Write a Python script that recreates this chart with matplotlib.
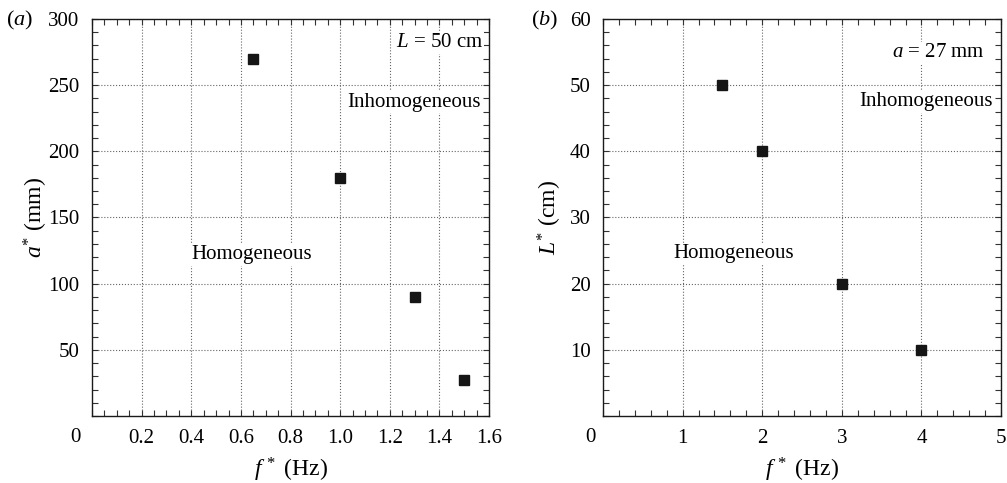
import numpy as np
import matplotlib
matplotlib.use('Agg')
import matplotlib.pyplot as plt
from matplotlib.ticker import MultipleLocator, FixedLocator
from matplotlib.transforms import offset_copy

plt.rcParams['font.family'] = ['Liberation Serif', 'DejaVu Serif']
plt.rcParams['mathtext.fontset'] = 'custom'
plt.rcParams['mathtext.rm'] = 'Liberation Serif'
plt.rcParams['mathtext.it'] = 'Liberation Serif:italic'

# panel (a): L = 50 cm
f_a = [0.65, 1.0, 1.3, 1.5]
a_star = [270, 180, 90, 27]
xticks_a = [0.2, 0.4, 0.6, 0.8, 1.0, 1.2, 1.4, 1.6]
xticklabels_a = ['0.2', '0.4', '0.6', '0.8', '1.0', '1.2', '1.4', '1.6']
yticks_a = [50, 100, 150, 200, 250, 300]

# panel (b): a = 27 mm
f_b = [1.5, 2, 3, 4]
L_star = [50, 40, 20, 10]
xticks_b = [1, 2, 3, 4, 5]
yticks_b = [10, 20, 30, 40, 50, 60]

fig = plt.figure(figsize=(10.07, 4.83), dpi=100)
ax1 = fig.add_axes([0.0914, 0.1387, 0.3943, 0.822])
ax2 = fig.add_axes([0.5988, 0.1387, 0.3953, 0.822])

fs = 15


def style(ax, xmax, ymax, xt, xtl, yt, xminor, yminor):
    ax.set_xlim(0, xmax)
    ax.set_ylim(0, ymax)
    ax.xaxis.set_major_locator(FixedLocator(xt))
    ax.set_xticklabels(xtl)
    ax.yaxis.set_major_locator(FixedLocator(yt))
    ax.set_yticklabels([str(v) for v in yt])
    ax.xaxis.set_minor_locator(MultipleLocator(xminor))
    ax.yaxis.set_minor_locator(MultipleLocator(yminor))
    ax.tick_params(which='both', direction='in', top=True, right=True,
                   length=4, width=0.8, labelsize=fs, color='0.2')
    ax.tick_params(axis='x', pad=9)
    ax.tick_params(axis='y', pad=9)
    ax.grid(True, which='major', linestyle=':', color='0.4', linewidth=0.8)
    for s in ax.spines.values():
        s.set_linewidth(1.0)
        s.set_color('0.1')
    ax.set_axisbelow(True)


style(ax1, 1.6, 300, xticks_a, xticklabels_a, yticks_a, 0.05, 10)
style(ax2, 5, 60, xticks_b, [str(v) for v in xticks_b], yticks_b, 0.2, 2)

ax1.plot(f_a, a_star, 's', color='#151515', markersize=7, zorder=5)
ax2.plot(f_b, L_star, 's', color='#151515', markersize=7, zorder=5)

ax1.set_xlabel(r'$f^{\,*}$ (Hz)', fontsize=17, labelpad=6)
ax1.set_ylabel(r'$a^{*}$ (mm)', fontsize=17, labelpad=-1)
ax2.set_xlabel(r'$f^{\,*}$ (Hz)', fontsize=17, labelpad=6)
ax2.set_ylabel(r'$L^{*}$ (cm)', fontsize=17, labelpad=4)

# shared origin labels
ax1.text(0, 0, '0', transform=offset_copy(ax1.transAxes, fig=fig, x=-17, y=-21, units='dots'),
         ha='center', va='center', fontsize=fs)
ax2.text(0, 0, '0', transform=offset_copy(ax2.transAxes, fig=fig, x=-13, y=-21, units='dots'),
         ha='center', va='center', fontsize=fs)

box = dict(facecolor='white', edgecolor='none', pad=1)
ax1.text(1.575, 282, r'$L$ = 50 cm', ha='right', va='center', fontsize=fs, bbox=box)
ax1.text(1.565, 237, 'Inhomogeneous', ha='right', va='center', fontsize=fs, bbox=box)
ax1.text(0.40, 122, 'Homogeneous', ha='left', va='center', fontsize=fs, bbox=box)

ax2.text(4.8, 54.9, r'$a$ = 27 mm', ha='right', va='center', fontsize=fs, bbox=box)
ax2.text(4.9, 47.5, 'Inhomogeneous', ha='right', va='center', fontsize=fs, bbox=box)
ax2.text(0.88, 24.5, 'Homogeneous', ha='left', va='center', fontsize=fs, bbox=box)

fig.text(20 / 1007, 1 - 20 / 483, r'($a$)', ha='center', va='center', fontsize=16)
fig.text(545 / 1007, 1 - 20 / 483, r'($b$)', ha='center', va='center', fontsize=16)

fig.savefig('out.png', dpi=100)
